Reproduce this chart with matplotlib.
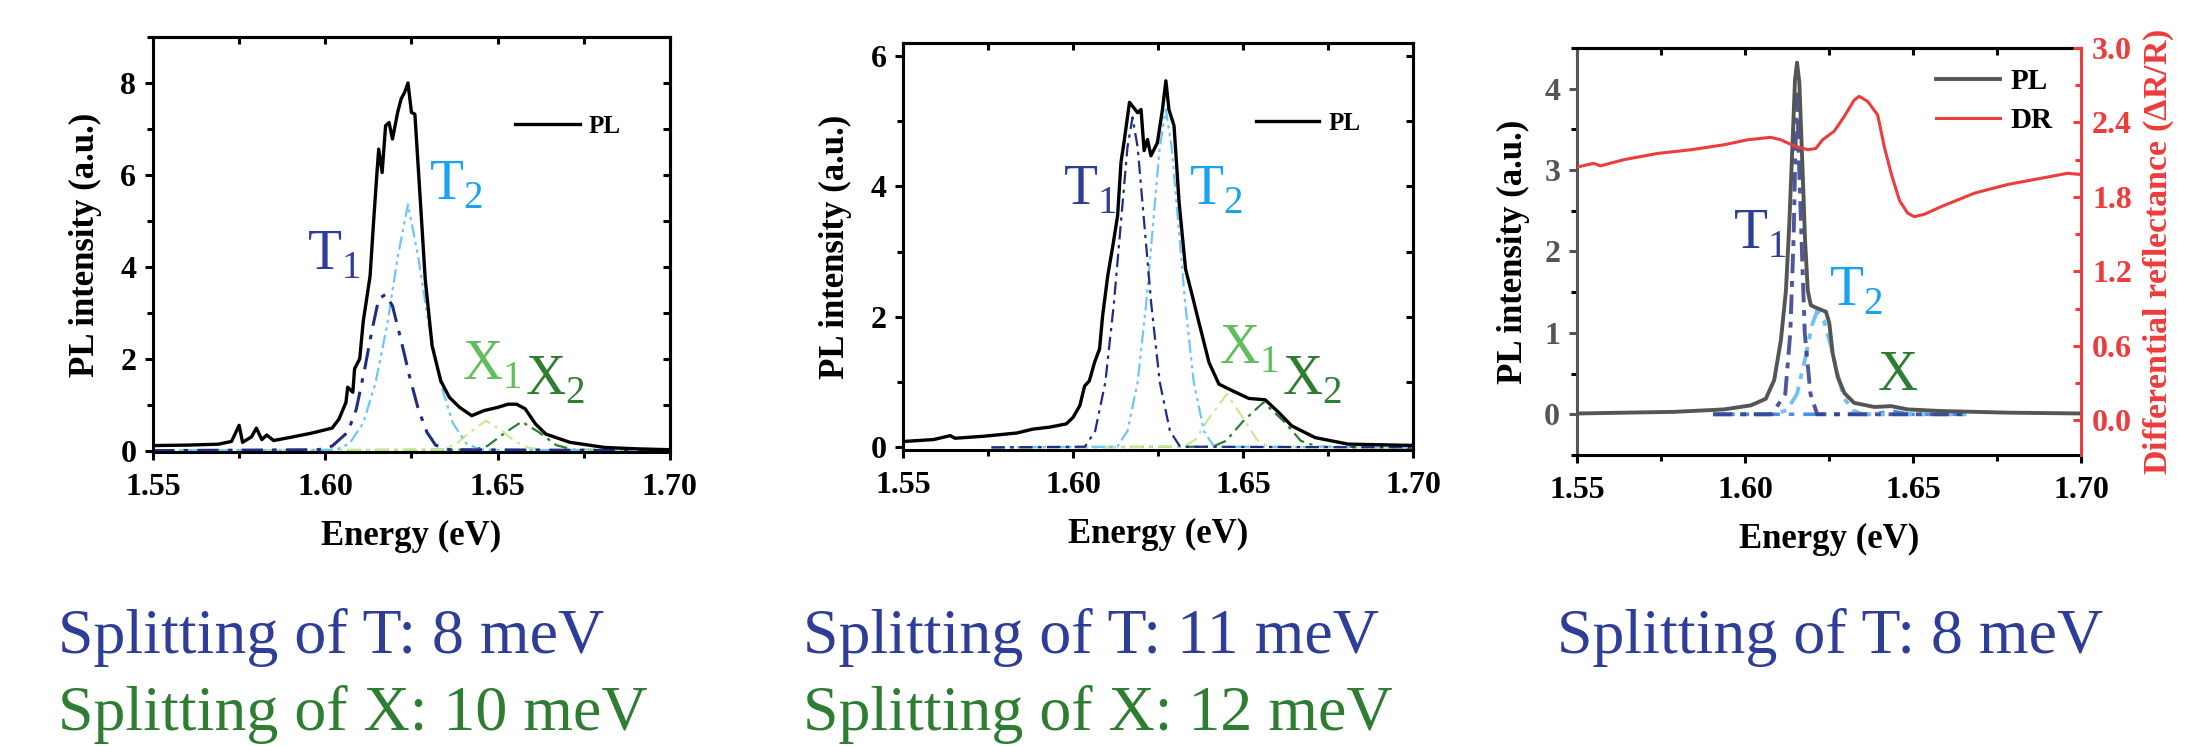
import matplotlib.pyplot as plt
from matplotlib.ticker import MultipleLocator, FormatStrFormatter
import numpy as np

plt.rcParams.update({'font.family': ['Liberation Serif', 'DejaVu Serif'],
                     'font.weight': 'bold',
                     'axes.labelweight': 'bold',
                     'mathtext.fontset': 'custom',
                     'mathtext.rm': 'Liberation Serif',
                     'axes.linewidth': 2.2})

navy = '#2E3D98'
sky = '#1BA1F2'
lgreen = '#62BD5E'
dgreen = '#2E7D32'
red = '#EE3B3B'
grey = '#555555'

# ---- panel 1 (E in eV, intensity in a.u.)
pl1 = np.array([(1.550, 0.11), (1.560, 0.12), (1.569, 0.14), (1.5728, 0.20), (1.575, 0.55), (1.576, 0.18),
                (1.5786, 0.30), (1.580, 0.49), (1.5816, 0.24), (1.583, 0.34), (1.585, 0.22), (1.590, 0.29),
                (1.596, 0.38), (1.602, 0.49), (1.604, 0.69), (1.606, 1.05), (1.6065, 1.38), (1.608, 1.27),
                (1.6085, 1.78), (1.610, 2.00), (1.611, 2.80), (1.613, 3.80), (1.614, 4.96), (1.615, 6.05),
                (1.6155, 6.56), (1.6165, 6.05), (1.6175, 7.07), (1.6185, 7.14), (1.6195, 6.78), (1.621, 7.36),
                (1.622, 7.65), (1.623, 7.79), (1.624, 8.00), (1.625, 7.36), (1.626, 7.32), (1.6275, 5.54),
                (1.629, 3.73), (1.631, 2.28), (1.6335, 1.52), (1.636, 1.16), (1.639, 0.94), (1.6425, 0.76),
                (1.646, 0.87), (1.650, 0.94), (1.653, 1.01), (1.6555, 1.01), (1.658, 0.91), (1.661, 0.58),
                (1.664, 0.36), (1.671, 0.18), (1.681, 0.07), (1.690, 0.04), (1.700, 0.02)])
t1_1 = np.array([(1.550, 0), (1.598, 0.02), (1.602, 0.10), (1.6065, 0.40), (1.609, 0.90), (1.6115, 1.80),
                 (1.6135, 2.60), (1.6155, 3.30), (1.6175, 3.40), (1.6195, 3.15), (1.622, 2.40), (1.6245, 1.60),
                 (1.627, 0.90), (1.6295, 0.40), (1.632, 0.12), (1.636, 0.02), (1.700, 0)])
t2_1 = np.array([(1.550, 0), (1.603, 0.02), (1.607, 0.15), (1.611, 0.60), (1.6145, 1.45), (1.618, 2.75),
                 (1.621, 4.20), (1.624, 5.36), (1.627, 4.20), (1.630, 2.75), (1.6335, 1.45), (1.637, 0.60),
                 (1.641, 0.15), (1.645, 0.02), (1.700, 0)])
x1_1 = np.array([(1.550, 0), (1.634, 0.02), (1.638, 0.15), (1.642, 0.40), (1.6466, 0.65), (1.651, 0.45),
                 (1.655, 0.20), (1.659, 0.06), (1.664, 0.01), (1.700, 0)])
x2_1 = np.array([(1.550, 0), (1.643, 0.02), (1.647, 0.10), (1.652, 0.38), (1.657, 0.63), (1.662, 0.40),
                 (1.667, 0.12), (1.672, 0.02), (1.700, 0)])

# ---- panel 2
pl2 = np.array([(1.550, 0.09), (1.559, 0.12), (1.5639, 0.18), (1.5653, 0.14), (1.5736, 0.17), (1.5834, 0.22),
                (1.5882, 0.28), (1.5931, 0.31), (1.598, 0.36), (1.600, 0.46), (1.602, 0.64), (1.6034, 0.94),
                (1.6048, 1.02), (1.6063, 1.30), (1.6078, 1.51), (1.6087, 2.02), (1.6102, 2.63), (1.6117, 3.09),
                (1.6131, 3.55), (1.6141, 4.37), (1.6151, 4.72), (1.6166, 5.29), (1.6175, 5.23), (1.619, 5.13),
                (1.620, 5.18), (1.6209, 4.55), (1.6219, 4.72), (1.6229, 4.47), (1.6248, 4.67), (1.6263, 5.18),
                (1.6273, 5.62), (1.6282, 5.18), (1.6297, 4.93), (1.6312, 3.75), (1.6331, 2.73), (1.6351, 2.32),
                (1.637, 1.92), (1.640, 1.30), (1.6429, 0.97), (1.6468, 0.87), (1.6517, 0.75), (1.6565, 0.73),
                (1.6604, 0.54), (1.6643, 0.33), (1.6712, 0.15), (1.6809, 0.05), (1.700, 0.03)])
t1_2 = np.array([(1.576, 0), (1.6035, 0.01), (1.6065, 0.25), (1.6095, 1.00), (1.612, 2.20), (1.614, 3.40),
                 (1.616, 4.60), (1.6175, 5.06), (1.619, 4.60), (1.621, 3.40), (1.623, 2.20), (1.6255, 1.00),
                 (1.6285, 0.25), (1.6315, 0.01), (1.700, 0)])
t2_2 = np.array([(1.576, 0), (1.613, 0.01), (1.616, 0.25), (1.619, 1.00), (1.6215, 2.20), (1.6235, 3.40),
                 (1.6255, 4.60), (1.6273, 5.18), (1.629, 4.60), (1.631, 3.40), (1.633, 2.20), (1.6355, 1.00),
                 (1.6385, 0.25), (1.6415, 0.01), (1.700, 0)])
x1_2 = np.array([(1.576, 0), (1.6325, 0.01), (1.636, 0.12), (1.640, 0.45), (1.6453, 0.82), (1.650, 0.45),
                 (1.654, 0.12), (1.6575, 0.01), (1.700, 0)])
x2_2 = np.array([(1.576, 0), (1.641, 0.01), (1.645, 0.10), (1.650, 0.40), (1.656, 0.69), (1.662, 0.40),
                 (1.667, 0.10), (1.672, 0.01), (1.700, 0)])

# ---- panel 3 (PL left axis, DR right axis)
pl3 = np.array([(1.550, 0.01), (1.579, 0.03), (1.5938, 0.06), (1.6018, 0.11), (1.6062, 0.19), (1.6087, 0.42),
                (1.6107, 0.91), (1.6122, 1.52), (1.6132, 2.34), (1.6142, 3.37), (1.6149, 4.11), (1.6155, 4.32),
                (1.6162, 4.07), (1.617, 3.17), (1.6179, 2.13), (1.6187, 1.52), (1.6196, 1.34), (1.6211, 1.31),
                (1.6241, 1.26), (1.6251, 1.12), (1.6261, 0.75), (1.6276, 0.46), (1.6296, 0.26), (1.6325, 0.14),
                (1.6385, 0.09), (1.6435, 0.10), (1.6484, 0.06), (1.6583, 0.04), (1.6782, 0.02), (1.700, 0.01)])
t1_3 = np.array([(1.5905, 0), (1.608, 0), (1.612, 0.25), (1.6135, 1.00), (1.6145, 2.20), (1.615, 3.20),
                 (1.6155, 3.93), (1.616, 3.20), (1.6168, 2.20), (1.6178, 1.00), (1.6195, 0.25), (1.6215, 0),
                 (1.666, 0)])
t2_3 = np.array([(1.5905, 0), (1.6085, 0), (1.6125, 0.05), (1.6155, 0.25), (1.618, 0.70), (1.620, 1.10),
                 (1.6215, 1.27), (1.6235, 1.15), (1.6255, 0.85), (1.6275, 0.50), (1.6295, 0.20), (1.632, 0.05),
                 (1.635, 0), (1.666, 0)])
x_3 = np.array([(1.5905, 0), (1.638, 0), (1.6435, 0.04), (1.649, 0), (1.666, 0)])
dr3 = np.array([(1.550, 2.04), (1.555, 2.07), (1.557, 2.05), (1.564, 2.10), (1.574, 2.15), (1.584, 2.18),
                (1.5938, 2.22), (1.6008, 2.26), (1.6077, 2.28), (1.6107, 2.26), (1.6147, 2.21), (1.6187, 2.18),
                (1.6211, 2.19), (1.6231, 2.26), (1.6266, 2.33), (1.6296, 2.45), (1.6325, 2.58), (1.634, 2.61),
                (1.6365, 2.57), (1.6395, 2.46), (1.6415, 2.20), (1.6435, 1.99), (1.646, 1.77), (1.6484, 1.67),
                (1.6504, 1.64), (1.6534, 1.66), (1.6583, 1.72), (1.6683, 1.83), (1.6782, 1.90), (1.6881, 1.95),
                (1.696, 1.99), (1.700, 1.98)])

split_T = ['Splitting of T: 8 meV', 'Splitting of T: 11 meV', 'Splitting of T: 8 meV']
split_X = ['Splitting of X: 10 meV', 'Splitting of X: 12 meV', None]

fig = plt.figure(figsize=(21.85, 7.46), dpi=100)
ax1 = fig.add_axes([0.0700, 0.3941, 0.2366, 0.5563])
ax2 = fig.add_axes([0.4133, 0.3968, 0.2334, 0.5456])
ax3 = fig.add_axes([0.7217, 0.3901, 0.2307, 0.5456])

tfs = 23
lfs = 25
afs = 40


def frame(ax):
    ax.set_xlim(1.55, 1.70)
    ax.xaxis.set_major_locator(MultipleLocator(0.05))
    ax.xaxis.set_minor_locator(MultipleLocator(0.025))
    ax.xaxis.set_major_formatter(FormatStrFormatter('%.2f'))
    ax.tick_params(which='both', direction='out', width=2.2, labelsize=tfs, pad=6)
    ax.tick_params(which='major', length=6)
    ax.tick_params(which='minor', length=4.5)
    ax.tick_params(axis='x', pad=9)
    top = ax.secondary_xaxis('top')
    top.xaxis.set_major_locator(MultipleLocator(0.025))
    top.tick_params(direction='in', length=5, width=2.2, labeltop=False)
    top.spines['top'].set_linewidth(2.2)
    ax.set_xlabel('Energy (eV)', fontsize=lfs, fontweight='bold', labelpad=13)
    ax.set_ylabel('PL intensity (a.u.)', fontsize=lfs, fontweight='bold', labelpad=13)


def right_ticks(ax, step):
    r = ax.secondary_yaxis('right')
    r.yaxis.set_major_locator(MultipleLocator(step))
    r.tick_params(direction='in', length=5, width=2.2, labelright=False)
    r.spines['right'].set_linewidth(2.2)


fit_kw = dict(lw=1.6)

# panel 1
frame(ax1)
ax1.plot(x2_1[:, 0], x2_1[:, 1], color=dgreen, ls=(0, (6, 2.5, 1.5, 2.5)), **fit_kw)
ax1.plot(x1_1[:, 0], x1_1[:, 1], color='#C8EB8E', ls=(0, (6, 2.5, 1.5, 2.5)), **fit_kw)
ax1.plot(t2_1[:, 0], t2_1[:, 1], color='#6EC6F7', ls=(0, (6, 2, 1.5, 2, 1.5, 2)), **fit_kw)
ax1.plot(t1_1[:, 0], t1_1[:, 1], color='#1F2D86', ls=(0, (7, 3, 1.5, 3)), lw=2.2)
ax1.plot(pl1[:, 0], pl1[:, 1], color='black', lw=2.4, label='PL')
ax1.set_ylim(-0.03, 9.0)
ax1.yaxis.set_major_locator(MultipleLocator(2))
ax1.yaxis.set_minor_locator(MultipleLocator(1))
right_ticks(ax1, 1)
ax1.legend(loc='upper left', bbox_to_anchor=(0.70, 0.812), frameon=False, handlelength=2.6,
           handletextpad=0.35, borderpad=0, borderaxespad=0, prop={'size': 18, 'weight': 'bold'})
ax1.text(1.5947, 3.95, r'T$_\mathregular{1}$', color=navy, fontsize=afs, fontweight='normal')
ax1.text(1.6300, 5.47, r'T$_\mathregular{2}$', color=sky, fontsize=afs, fontweight='normal')
ax1.text(1.6398, 1.56, r'X$_\mathregular{1}$', color=lgreen, fontsize=afs, fontweight='normal')
ax1.text(1.6580, 1.23, r'X$_\mathregular{2}$', color=dgreen, fontsize=afs, fontweight='normal')

# panel 2
frame(ax2)
ax2.plot(x2_2[:, 0], x2_2[:, 1], color=dgreen, ls=(0, (6, 2.5, 1.5, 2.5)), **fit_kw)
ax2.plot(x1_2[:, 0], x1_2[:, 1], color='#C8EB8E', ls=(0, (6, 2.5, 1.5, 2.5)), **fit_kw)
ax2.plot(t2_2[:, 0], t2_2[:, 1], color='#6EC6F7', ls=(0, (6, 2, 1.5, 2, 1.5, 2)), **fit_kw)
ax2.plot(t1_2[:, 0], t1_2[:, 1], color='#1F2D86', ls=(0, (6, 2.5, 1.5, 2.5)), **fit_kw)
ax2.plot(pl2[:, 0], pl2[:, 1], color='black', lw=2.4, label='PL')
ax2.set_ylim(-0.04, 6.2)
ax2.yaxis.set_major_locator(MultipleLocator(2))
ax2.yaxis.set_minor_locator(MultipleLocator(1))
right_ticks(ax2, 1)
ax2.legend(loc='upper left', bbox_to_anchor=(0.693, 0.83), frameon=False, handlelength=2.5,
           handletextpad=0.39, borderpad=0, borderaxespad=0, prop={'size': 18, 'weight': 'bold'})
ax2.text(1.5970, 3.73, r'T$_\mathregular{1}$', color=navy, fontsize=afs, fontweight='normal')
ax2.text(1.6341, 3.73, r'T$_\mathregular{2}$', color=sky, fontsize=afs, fontweight='normal')
ax2.text(1.6429, 1.30, r'X$_\mathregular{1}$', color=lgreen, fontsize=afs, fontweight='normal')
ax2.text(1.6614, 0.82, r'X$_\mathregular{2}$', color=dgreen, fontsize=afs, fontweight='normal')

# panel 3
frame(ax3)
ax3.spines['left'].set_color(grey)
ax3.spines['right'].set_visible(False)
ax3.tick_params(axis='y', colors=grey)
ax3.plot(x_3[:, 0], x_3[:, 1], color='#4A8FE0', ls=(0, (6, 2.5, 1.5, 2.5)), lw=2.6)
ax3.plot(t2_3[:, 0], t2_3[:, 1], color='#74C0F0', ls=(0, (5, 2, 1.5, 2)), lw=2.8)
ax3.plot(t1_3[:, 0], t1_3[:, 1], color='#2E3A8C', ls=(0, (5, 2, 1.5, 2)), lw=2.8, alpha=0.85)
l_pl, = ax3.plot(pl3[:, 0], pl3[:, 1], color=grey, lw=2.8, label='PL')
ax3.set_ylim(-0.5, 4.5)
ax3.yaxis.set_major_locator(MultipleLocator(1))
ax3.yaxis.set_minor_locator(MultipleLocator(0.5))
ax3.set_ylabel('PL intensity (a.u.)', fontsize=lfs, fontweight='bold', labelpad=10, color='black')
ax3.text(1.5963, 2.04, r'T$_\mathregular{1}$', color=navy, fontsize=afs, fontweight='normal')
ax3.text(1.6251, 1.34, r'T$_\mathregular{2}$', color=sky, fontsize=afs, fontweight='normal')
ax3.text(1.6395, 0.30, 'X', color=dgreen, fontsize=afs, fontweight='normal')

ax3r = ax3.twinx()
for s in ['left', 'top', 'bottom']:
    ax3r.spines[s].set_visible(False)
ax3r.spines['right'].set_color(red)
ax3r.spines['right'].set_linewidth(2.2)
l_dr, = ax3r.plot(dr3[:, 0], dr3[:, 1], color=red, lw=2.2, label='DR')
ax3r.set_ylim(-0.28, 3.0)
ax3r.yaxis.set_major_locator(MultipleLocator(0.6))
ax3r.yaxis.set_minor_locator(MultipleLocator(0.3))
ax3r.yaxis.set_major_formatter(FormatStrFormatter('%.1f'))
ax3r.tick_params(which='both', direction='in', colors=red, width=2.2, labelsize=tfs, pad=8)
ax3r.tick_params(which='major', length=6)
ax3r.tick_params(which='minor', length=4.5)
ax3r.set_ylabel(r'Differential reflectance ($\mathregular{\Delta}$R/R)', fontsize=24.5, fontweight='bold',
                color=red, labelpad=7)
ax3r.legend(handles=[l_pl, l_dr], loc='upper left', bbox_to_anchor=(0.712, 0.95), frameon=False,
            handlelength=2.2, handletextpad=0.35, labelspacing=0.4, borderpad=0, borderaxespad=0,
            prop={'size': 21, 'weight': 'bold'})

# captions under the panels
for xt, st, sx in zip([0.0265, 0.3675, 0.7126], split_T, split_X):
    fig.text(xt, 0.1247, st, color=navy, fontsize=46, fontweight='normal', va='baseline')
    if sx:
        fig.text(xt, 0.0214, sx, color=dgreen, fontsize=46, fontweight='normal', va='baseline')

fig.savefig('out.png', dpi=100)
